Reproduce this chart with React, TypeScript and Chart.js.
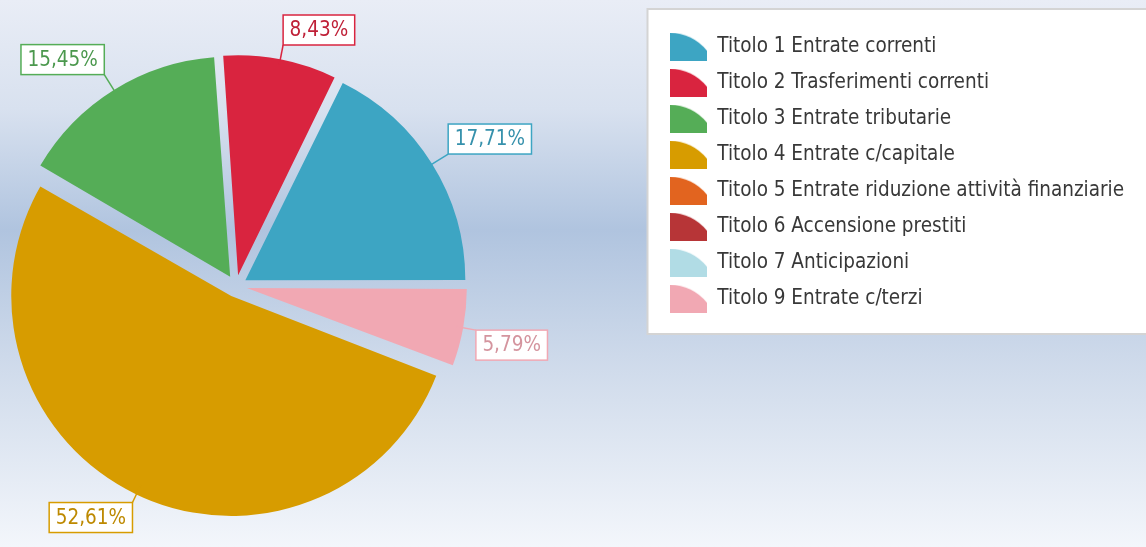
import React, { useEffect, useRef } from 'react';
import { Chart, registerables } from 'chart.js';

Chart.register(...registerables);

// ---- data (legend order) ----
const categories = [
  'Titolo 1 Entrate correnti',
  'Titolo 2 Trasferimenti correnti',
  'Titolo 3 Entrate tributarie',
  'Titolo 4 Entrate c/capitale',
  'Titolo 5 Entrate riduzione attività finanziarie',
  'Titolo 6 Accensione prestiti',
  'Titolo 7 Anticipazioni',
  'Titolo 9 Entrate c/terzi',
];
const shares = [17.71, 8.43, 15.45, 52.61, 0, 0, 0, 5.79];
const colors = ['#3da5c3', '#d9243f', '#55ad57', '#d79c00', '#e2641f', '#b73537', '#b1dce5', '#f1a8b3'];

const FONT = "'DejaVu Sans Condensed', 'DejaVu Sans', sans-serif";
const FONT_SIZE = 20.5;
const LEAD = 20;

const VIEW_W = 1146;
const VIEW_H = 547;
const SHIFT_X = 200; // canvas extends this far to the left, off-screen
const EXTRA_H = 10; // canvas extends below the view
const CANVAS_W = VIEW_W + SHIFT_X;
const CANVAS_H = VIEW_H + EXTRA_H;

const PIE_CX = 236 + SHIFT_X;
const PIE_CY = 286;
const LEGEND_LEFT = 654.5 + SHIFT_X;
const LEGEND_TOP = 21;
const LEGEND_PAD = 15.5;
const ICON_W = 37;

function darken(hex: string, f: number) {
  const n = parseInt(hex.slice(1), 16);
  const r = Math.round(((n >> 16) & 255) * f);
  const g = Math.round(((n >> 8) & 255) * f);
  const b = Math.round((n & 255) * f);
  return `rgb(${r},${g},${b})`;
}

function makeIcon(color: string) {
  const c = document.createElement('canvas');
  c.width = ICON_W;
  c.height = 28;
  const g = c.getContext('2d')!;
  const r = 47;
  const th = Math.asin(ICON_W / r);
  g.fillStyle = color;
  g.beginPath();
  g.moveTo(0, 28);
  g.lineTo(0, 0);
  g.arc(0, r, r, -Math.PI / 2, -Math.PI / 2 + th);
  g.lineTo(ICON_W, 28);
  g.closePath();
  g.fill();
  return c;
}

const backgroundPlugin = {
  id: 'bgAndLegendBox',
  beforeDraw(chart: any) {
    const { ctx, width, height } = chart;
    ctx.save();
    const grad = ctx.createLinearGradient(0, 0, 0, VIEW_H);
    grad.addColorStop(0, 'rgb(233,237,246)');
    grad.addColorStop(0.2, 'rgb(216,225,239)');
    grad.addColorStop(0.42, 'rgb(176,196,223)');
    grad.addColorStop(0.65, 'rgb(205,217,234)');
    grad.addColorStop(1, 'rgb(243,246,251)');
    ctx.fillStyle = grad;
    ctx.fillRect(0, 0, width, height);
    const lg = chart.legend;
    if (lg) {
      const bx = lg.left - 7;
      const by = 9;
      const bw = width - bx + 10;
      const bh = 325;
      ctx.fillStyle = '#ffffff';
      ctx.fillRect(bx, by, bw, bh);
      ctx.strokeStyle = '#d4d4d4';
      ctx.lineWidth = 2;
      ctx.strokeRect(bx, by, bw, bh);
    }
    ctx.restore();
  },
};

const radiusFixPlugin = {
  id: 'radiusFix',
  afterDatasetsUpdate(chart: any) {
    const meta = chart.getDatasetMeta(0);
    meta.data.forEach((arc: any) => {
      const off = ((arc.options && arc.options.offset) || 0) / 4;
      const fix = 1 - Math.sin(Math.min(Math.PI, arc.circumference || 0));
      arc.outerRadius = arc.outerRadius - off * fix;
    });
  },
};

const labelPlugin = {
  id: 'sliceLabels',
  afterDatasetsDraw(chart: any) {
    const ctx = chart.ctx;
    const meta = chart.getDatasetMeta(0);
    const ds = chart.data.datasets[0];
    ctx.save();
    ctx.font = `${FONT_SIZE}px ${FONT}`;
    ctx.textBaseline = 'middle';
    ctx.textAlign = 'center';
    meta.data.forEach((arc: any, i: number) => {
      const v = ds.data[i];
      if (!v) return;
      const color = ds.backgroundColor[i];
      const mid = (arc.startAngle + arc.endAngle) / 2;
      const off = ((arc.options && arc.options.offset) || 0) / 4;
      const cs = Math.cos(mid);
      const sn = Math.sin(mid);
      const cx = arc.x + cs * off;
      const cy = arc.y + sn * off;
      const R = arc.outerRadius;
      const ex = cx + cs * R;
      const ey = cy + sn * R;
      const px = cx + cs * (R + LEAD);
      const py = cy + sn * (R + LEAD);
      ctx.strokeStyle = color;
      ctx.lineWidth = 1.5;
      ctx.beginPath();
      ctx.moveTo(ex, ey);
      ctx.lineTo(px, py);
      ctx.stroke();
      const text = v.toFixed(2).replace('.', ',') + '%';
      const tw = ctx.measureText(text).width;
      const bw = tw + 13;
      const bh = 30;
      const bx = cs >= 0 ? px : px - bw;
      const by = sn < 0 ? py - bh : py;
      ctx.fillStyle = '#ffffff';
      ctx.fillRect(bx, by, bw, bh);
      ctx.strokeStyle = color;
      ctx.lineWidth = 1.5;
      ctx.strokeRect(bx, by, bw, bh);
      ctx.fillStyle = darken(color, 0.88);
      ctx.fillText(text, bx + bw / 2, by + bh / 2 + 1);
    });
    ctx.restore();
  },
};

export default function App() {
  const ref = useRef<HTMLCanvasElement>(null);

  useEffect(() => {
    if (!ref.current) return;
    const n = categories.length;
    const order = categories.map((_, i) => n - 1 - i);
    const icons = colors.map((c) => makeIcon(c));

    // measure longest legend text so the legend lands at LEGEND_LEFT
    const mctx = document.createElement('canvas').getContext('2d')!;
    mctx.font = `${FONT_SIZE}px ${FONT}`;
    const maxText = Math.max(...categories.map((c) => mctx.measureText(c).width));
    const legendW = LEGEND_PAD + ICON_W + FONT_SIZE / 2 + maxText + 10;
    const padRight = CANVAS_W - LEGEND_LEFT - legendW;
    const padLeft = 2 * PIE_CX - LEGEND_LEFT;
    const padTop = LEGEND_TOP;
    const padBottom = CANVAS_H - (2 * PIE_CY - padTop);

    const chart = new Chart(ref.current, {
      type: 'pie',
      data: {
        labels: order.map((i) => categories[i]),
        datasets: [
          {
            data: order.map((i) => shares[i]),
            backgroundColor: order.map((i) => colors[i]),
            borderWidth: 0,
            offset: 44,
          },
        ],
      },
      options: {
        animation: false,
        responsive: false,
        devicePixelRatio: 1,
        events: [],
        rotation: 90,
        radius: 220,
        layout: { padding: { left: padLeft, right: padRight, top: padTop, bottom: padBottom } },
        plugins: {
          tooltip: { enabled: false },
          legend: {
            position: 'right',
            align: 'start',
            labels: {
              usePointStyle: true,
              pointStyleWidth: ICON_W,
              padding: LEGEND_PAD,
              color: '#383838',
              font: { family: FONT, size: FONT_SIZE },
              generateLabels: () =>
                categories.map((c, i) => ({
                  text: c,
                  fillStyle: colors[i],
                  strokeStyle: colors[i],
                  lineWidth: 0,
                  pointStyle: icons[i],
                  hidden: false,
                  index: n - 1 - i,
                  fontColor: '#383838',
                })),
            },
          },
        },
      } as any,
      plugins: [backgroundPlugin, radiusFixPlugin, labelPlugin],
    });
    return () => chart.destroy();
  }, []);

  return (
    <div style={{ position: 'fixed', left: 0, top: 0, width: VIEW_W, height: VIEW_H, overflow: 'hidden' }}>
      <canvas
        ref={ref}
        width={CANVAS_W}
        height={CANVAS_H}
        style={{ position: 'absolute', left: -SHIFT_X, top: 0, display: 'block' }}
      />
    </div>
  );
}
